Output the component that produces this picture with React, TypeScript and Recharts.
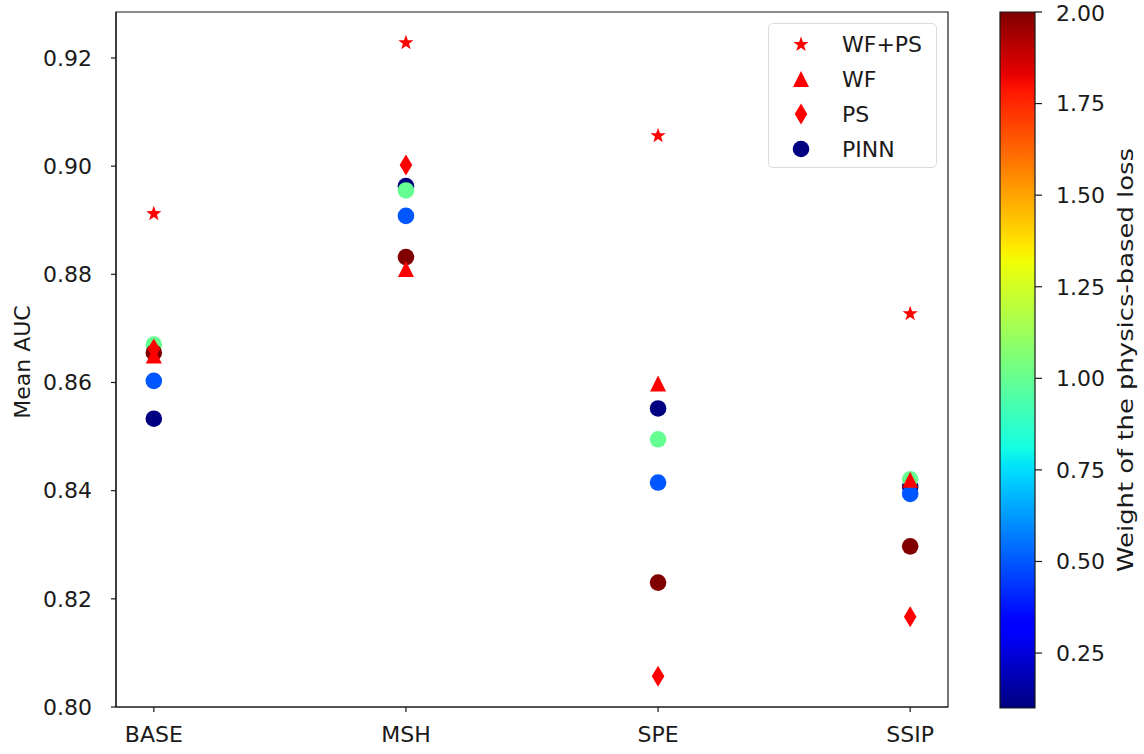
import React from "react";
import {
  ComposedChart,
  Legend,
  ReferenceArea,
  Scatter,
  ScatterChart,
  XAxis,
  YAxis,
} from "recharts";

const categories = ["BASE", "MSH", "SPE", "SSIP"];

const wfPs = [0.8913, 0.9229, 0.9057, 0.8728];
const wf = [0.865, 0.881, 0.8598, 0.842];
const ps = [0.8662, 0.9002, 0.8057, 0.8167];

// PINN runs, one array per weight of the physics-based loss
const pinnWeights = [0.1, 0.5, 1.0, 2.0];
const pinnW01 = [0.8533, 0.8963, 0.8552, 0.8407];
const pinnW05 = [0.8603, 0.8908, 0.8415, 0.8394];
const pinnW10 = [0.867, 0.8955, 0.8495, 0.8421];
const pinnW20 = [0.8655, 0.8832, 0.823, 0.8297];

const yTicks = [0.8, 0.82, 0.84, 0.86, 0.88, 0.9, 0.92];
const cbTicks = [0.25, 0.5, 0.75, 1.0, 1.25, 1.5, 1.75, 2.0];
const cbMin = 0.1;
const cbMax = 2.0;

const legendItems = [
  { name: "WF+PS", marker: "star" },
  { name: "WF", marker: "triangle" },
  { name: "PS", marker: "diamond" },
  { name: "PINN", marker: "circle" },
];

const FONT = "'DejaVu Sans', sans-serif";
const FS = 22;
const INK = "#1a1a1a";
const RED = "#ff0000";

// matplotlib jet
const JET_R = [[0, 0], [0.35, 0], [0.66, 1], [0.89, 1], [1, 0.5]];
const JET_G = [[0, 0], [0.125, 0], [0.375, 1], [0.64, 1], [0.91, 0], [1, 0]];
const JET_B = [[0, 0.5], [0.11, 1], [0.34, 1], [0.65, 0], [1, 0]];

function lerpTable(tbl: number[][], t: number) {
  for (let i = 1; i < tbl.length; i++) {
    if (t <= tbl[i][0]) {
      const [x0, y0] = tbl[i - 1];
      const [x1, y1] = tbl[i];
      return y0 + ((t - x0) / (x1 - x0)) * (y1 - y0);
    }
  }
  return tbl[tbl.length - 1][1];
}

function jet(t: number) {
  const c = (v: number) => Math.round(Math.max(0, Math.min(1, v)) * 255);
  return `rgb(${c(lerpTable(JET_R, t))},${c(lerpTable(JET_G, t))},${c(lerpTable(JET_B, t))})`;
}

const weightColor = (w: number) => jet((w - cbMin) / (cbMax - cbMin));

const jetStops = [0, 0.11, 0.125, 0.34, 0.35, 0.375, 0.64, 0.65, 0.66, 0.89, 0.91, 1];

const toPoints = (vals: number[]) => vals.map((y, i) => ({ x: i, y }));

function Marker({ kind, cx, cy, fill }: { kind: string; cx: number; cy: number; fill: string }) {
  if (kind === "star") {
    const pts: string[] = [];
    for (let k = 0; k < 10; k++) {
      const r = k % 2 === 0 ? 8 : 3.2;
      const a = -Math.PI / 2 + (k * Math.PI) / 5;
      pts.push(`${cx + r * Math.cos(a)},${cy + 0.5 + r * Math.sin(a)}`);
    }
    return <polygon points={pts.join(" ")} fill={fill} />;
  }
  if (kind === "triangle") {
    return (
      <polygon
        points={`${cx},${cy - 8} ${cx - 8},${cy + 8} ${cx + 8},${cy + 8}`}
        fill={fill}
      />
    );
  }
  if (kind === "diamond") {
    return (
      <polygon
        points={`${cx},${cy - 10.5} ${cx + 6.3},${cy} ${cx},${cy + 10.5} ${cx - 6.3},${cy}`}
        fill={fill}
      />
    );
  }
  return <circle cx={cx} cy={cy} r={8.3} fill={fill} />;
}

const shapeOf = (kind: string, fill: string) => (props: any) =>
  <Marker kind={kind} cx={props.cx} cy={props.cy} fill={fill} />;

function LegendBox() {
  return (
    <div
      style={{
        width: 169,
        height: 145,
        boxSizing: "border-box",
        border: "1px solid #dcdcdc",
        borderRadius: 5,
        background: "rgba(255,255,255,0.8)",
        position: "relative",
      }}
    >
      <svg width={169} height={145} style={{ position: "absolute", left: -1, top: -1 }}>
        {legendItems.map((item, i) => {
          const cy = 21 + i * 35;
          const fill = item.marker === "circle" ? weightColor(pinnWeights[0]) : RED;
          return (
            <g key={item.name}>
              <Marker kind={item.marker} cx={33} cy={cy} fill={fill} />
              <text
                x={74}
                y={cy}
                dominantBaseline="central"
                fontFamily={FONT}
                fontSize={FS}
                fill={INK}
              >
                {item.name}
              </text>
            </g>
          );
        })}
      </svg>
    </div>
  );
}

const pinnSeries = [pinnW01, pinnW05, pinnW10, pinnW20];

export default function App() {
  return (
    <div
      style={{
        position: "absolute",
        left: 0,
        top: 0,
        width: 1144,
        height: 754,
        background: "#fff",
        fontFamily: FONT,
      }}
    >
      <div style={{ position: "absolute", left: 0, top: 0 }}>
        <ScatterChart width={960} height={754} margin={{ top: 12, right: 12, bottom: 0, left: 16 }}>
          <XAxis
            type="number"
            dataKey="x"
            domain={[-0.15, 3.15]}
            ticks={[0, 1, 2, 3]}
            tickFormatter={(i: number) => categories[i] ?? ""}
            allowDataOverflow
            height={47}
            tickSize={5}
            tickMargin={14}
            axisLine={{ stroke: INK, strokeWidth: 1.2 }}
            tickLine={{ stroke: INK, strokeWidth: 1.2 }}
            tick={{ fill: INK, fontSize: FS }}
          />
          <YAxis
            type="number"
            dataKey="y"
            domain={[0.8, 0.9285]}
            ticks={yTicks}
            tickFormatter={(v: number) => v.toFixed(2)}
            allowDataOverflow
            width={100}
            tickSize={5}
            tickMargin={19}
            axisLine={{ stroke: INK, strokeWidth: 1.2 }}
            tickLine={{ stroke: INK, strokeWidth: 1.2 }}
            tick={{ fill: INK, fontSize: FS }}
            label={{
              content: () => (
                <text
                  x={22}
                  y={362}
                  transform="rotate(-90 22 362)"
                  textAnchor="middle"
                  dominantBaseline="central"
                  fontFamily={FONT}
                  fontSize={FS}
                  fill={INK}
                >
                  Mean AUC
                </text>
              ),
            }}
          />
          <ReferenceArea
            x1={-0.15}
            x2={3.15}
            y1={0.8}
            y2={0.9285}
            fill="none"
            stroke={INK}
            strokeWidth={1.2}
            ifOverflow="visible"
          />
          {pinnSeries.map((vals, k) => (
            <Scatter
              key={`pinn-${k}`}
              name={k === 0 ? "PINN" : `PINN w=${pinnWeights[k]}`}
              data={toPoints(vals)}
              shape={shapeOf("circle", weightColor(pinnWeights[k]))}
              legendType="none"
              isAnimationActive={false}
            />
          ))}
          <Scatter
            name="WF+PS"
            data={toPoints(wfPs)}
            shape={shapeOf("star", RED)}
            isAnimationActive={false}
          />
          <Scatter
            name="WF"
            data={toPoints(wf)}
            shape={shapeOf("triangle", RED)}
            isAnimationActive={false}
          />
          <Scatter
            name="PS"
            data={toPoints(ps)}
            shape={shapeOf("diamond", RED)}
            isAnimationActive={false}
          />
          <Legend
            layout="horizontal"
            verticalAlign="middle"
            align="center"
            content={() => <LegendBox />}
            wrapperStyle={{ left: 768, top: 23, width: 169, height: 145 }}
          />
        </ScatterChart>
      </div>

      <div style={{ position: "absolute", left: 960, top: 0 }}>
        <ComposedChart
          width={184}
          height={754}
          data={[{ x: 0 }, { x: 1 }]}
          margin={{ top: 12, right: 9, bottom: 46, left: 40 }}
        >
          <defs>
            <linearGradient id="jetBar" x1="0" y1="1" x2="0" y2="0">
              {jetStops.map((t) => (
                <stop key={t} offset={`${t * 100}%`} stopColor={jet(t)} />
              ))}
            </linearGradient>
          </defs>
          <XAxis type="number" dataKey="x" domain={[0, 1]} hide />
          <YAxis
            type="number"
            orientation="right"
            domain={[cbMin, cbMax]}
            ticks={cbTicks}
            tickFormatter={(v: number) => v.toFixed(2)}
            allowDataOverflow
            width={100}
            tickSize={7}
            tickMargin={14}
            axisLine={false}
            tickLine={{ stroke: INK, strokeWidth: 1.2 }}
            tick={{ fill: INK, fontSize: FS }}
            label={{
              content: () => (
                <text
                  x={165}
                  y={360}
                  transform="rotate(-90 165 360)"
                  textAnchor="middle"
                  dominantBaseline="central"
                  fontFamily={FONT}
                  fontSize={FS}
                  textLength={424}
                  lengthAdjust="spacingAndGlyphs"
                  fill={INK}
                >
                  Weight of the physics-based loss
                </text>
              ),
            }}
          />
          <ReferenceArea
            x1={0}
            x2={1}
            y1={cbMin}
            y2={cbMax}
            fill="url(#jetBar)"
            fillOpacity={1}
            stroke={INK}
            strokeWidth={1.2}
            ifOverflow="visible"
          />
        </ComposedChart>
      </div>
    </div>
  );
}
